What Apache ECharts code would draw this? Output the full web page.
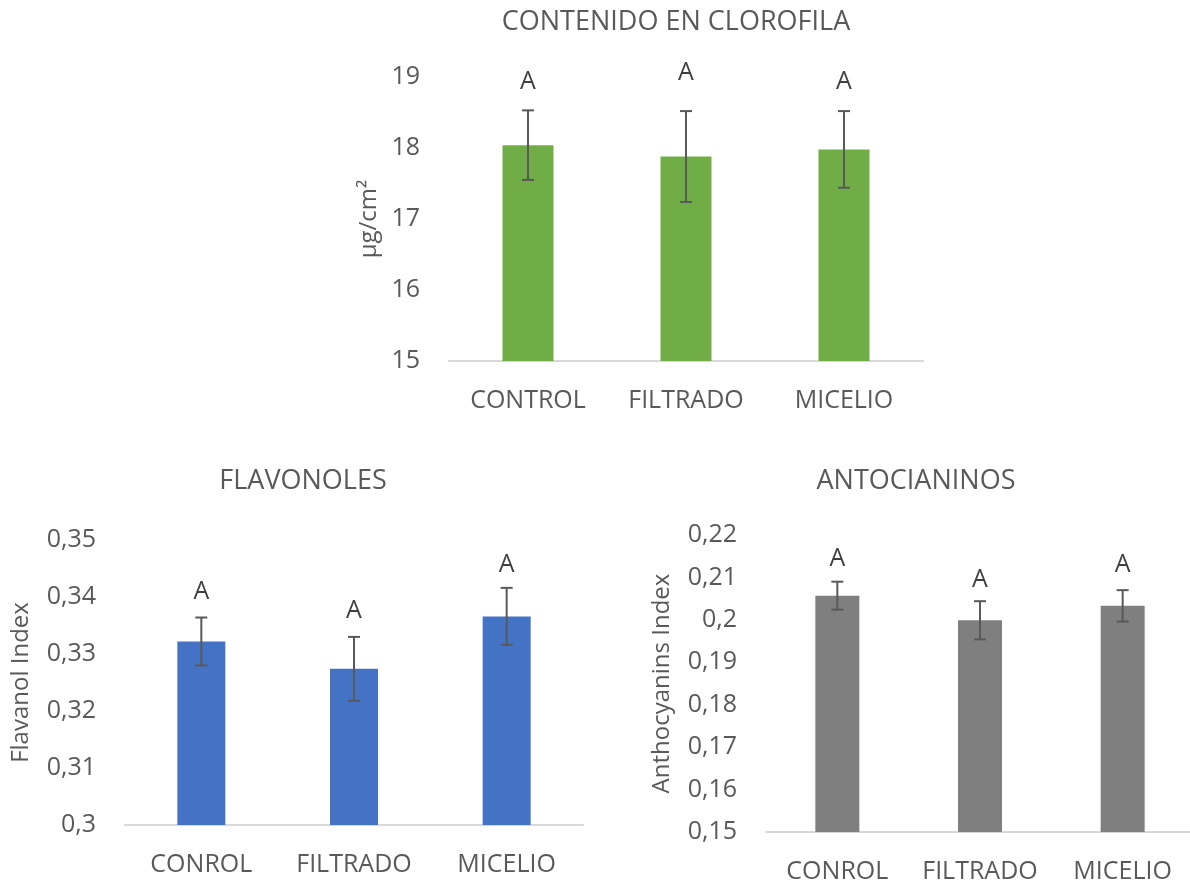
<!DOCTYPE html>
<html lang="es">
<head>
	<meta charset="UTF-8">
	<title>Clorofila, flavonoles y antocianinos</title>
	<style>
		html, body { margin: 0; padding: 0; background: #fff; }
		#main { width: 1190px; height: 882px; }
	</style>
</head>
<body>
	<div id="main"></div>
	<script src="https://cdn.jsdelivr.net/npm/echarts@6/dist/echarts.min.js"></script>
	<script>
		// categorías (el gráfico de abajo dice "CONROL" tal cual)
		var catClorofila = ['CONTROL', 'FILTRADO', 'MICELIO'];
		var catBottom = ['CONROL', 'FILTRADO', 'MICELIO'];

		// contenido en clorofila (µg/cm²)
		var clorofila = [18.04, 17.88, 17.98];
		var clorofilaErr = [0.49, 0.64, 0.54];
		var clorofilaLetras = ['A', 'A', 'A'];
		var clorofilaLetraPos = [18.93, 19.06, 18.93];

		// flavonoles
		var flavonoles = [0.3322, 0.3274, 0.3366];
		var flavonolesErr = [0.0042, 0.0056, 0.0050];
		var flavonolesLetras = ['A', 'A', 'A'];
		var flavonolesLetraPos = [0.3409, 0.3376, 0.3456];

		// antocianinos
		var antocianinos = [0.2057, 0.1999, 0.2033];
		var antocianinosErr = [0.0033, 0.0045, 0.0037];
		var antocianinosLetras = ['A', 'A', 'A'];
		var antocianinosLetraPos = [0.2143, 0.2094, 0.2129];

		var FONT = '"Open Sans", "Noto Sans", sans-serif';
		var GRIS = '#595959';

		function coma(v) {
			return String(Math.round(v * 1000) / 1000).replace('.', ',');
		}

		function errData(vals, errs) {
			return vals.map(function (v, i) { return [i, v - errs[i], v + errs[i]]; });
		}

		function letraData(pos, letras) {
			return pos.map(function (p, i) { return [i, p, letras[i]]; });
		}

		function renderErr(params, api) {
			var lo = api.coord([api.value(0), api.value(1)]);
			var hi = api.coord([api.value(0), api.value(2)]);
			var w = 6;
			var st = { stroke: GRIS, lineWidth: 2 };
			return {
				type: 'group',
				children: [
					{ type: 'line', shape: { x1: lo[0], y1: lo[1], x2: hi[0], y2: hi[1] }, style: st },
					{ type: 'line', shape: { x1: hi[0] - w, y1: hi[1], x2: hi[0] + w, y2: hi[1] }, style: st },
					{ type: 'line', shape: { x1: lo[0] - w, y1: lo[1], x2: lo[0] + w, y2: lo[1] }, style: st }
				]
			};
		}

		function renderLetra(params, api) {
			var p = api.coord([api.value(0), api.value(1)]);
			return {
				type: 'text',
				x: p[0],
				y: p[1],
				style: {
					text: api.value(2),
					textAlign: 'center',
					textVerticalAlign: 'middle',
					font: '25px ' + FONT,
					fill: '#404040'
				}
			};
		}

		function xAxisDe(grid, cats) {
			return {
				type: 'category',
				gridIndex: grid,
				data: cats,
				axisLine: { lineStyle: { color: '#D9D9D9', width: 2 } },
				axisTick: { show: false },
				axisLabel: { color: GRIS, fontSize: 25, fontFamily: FONT, margin: 27, interval: 0 }
			};
		}

		function yAxisDe(grid, min, max, step, name, gap, fmt) {
			return {
				type: 'value',
				gridIndex: grid,
				min: min,
				max: max,
				interval: step,
				name: name,
				nameLocation: 'middle',
				nameGap: gap,
				nameTextStyle: { color: GRIS, fontSize: 24, fontFamily: FONT },
				axisLine: { show: false },
				axisTick: { show: false },
				splitLine: { show: false },
				axisLabel: { color: GRIS, fontSize: 25, fontFamily: FONT, margin: 29, formatter: fmt }
			};
		}

		function seriesDe(idx, vals, errs, letras, pos, color, ancho) {
			return [
				{
					type: 'bar',
					xAxisIndex: idx,
					yAxisIndex: idx,
					data: vals,
					barWidth: ancho,
					itemStyle: { color: color },
					silent: true
				},
				{
					type: 'custom',
					xAxisIndex: idx,
					yAxisIndex: idx,
					data: errData(vals, errs),
					encode: { x: 0, y: [1, 2] },
					renderItem: renderErr,
					z: 5,
					silent: true
				},
				{
					type: 'custom',
					xAxisIndex: idx,
					yAxisIndex: idx,
					data: letraData(pos, letras),
					encode: { x: 0, y: 1 },
					renderItem: renderLetra,
					z: 6,
					silent: true
				}
			];
		}

		var myChart = echarts.init(document.getElementById('main'));
		var option = {
			animation: false,
			graphic: [
				{ type: 'text', x: 676, y: 22, style: { text: 'CONTENIDO EN CLOROFILA', textAlign: 'center', textVerticalAlign: 'middle', font: '27px ' + FONT, fill: GRIS } },
				{ type: 'text', x: 303, y: 481, style: { text: 'FLAVONOLES', textAlign: 'center', textVerticalAlign: 'middle', font: '27px ' + FONT, fill: GRIS } },
				{ type: 'text', x: 916, y: 481, style: { text: 'ANTOCIANINOS', textAlign: 'center', textVerticalAlign: 'middle', font: '27px ' + FONT, fill: GRIS } }
			],
			grid: [
				{ left: 449, top: 77, width: 474, height: 284, containLabel: false, outerBoundsMode: 'none' },
				{ left: 125, top: 540, width: 458, height: 285, containLabel: false, outerBoundsMode: 'none' },
				{ left: 766, top: 535, width: 428, height: 297, containLabel: false, outerBoundsMode: 'none' }
			],
			xAxis: [
				xAxisDe(0, catClorofila),
				xAxisDe(1, catBottom),
				xAxisDe(2, catBottom)
			],
			yAxis: [
				yAxisDe(0, 15, 19, 1, 'µg/cm²', 68, null),
				yAxisDe(1, 0.3, 0.35, 0.01, 'Flavanol Index', 92, coma),
				yAxisDe(2, 0.15, 0.22, 0.01, 'Anthocyanins Index', 92, coma)
			],
			series: [].concat(
				seriesDe(0, clorofila, clorofilaErr, clorofilaLetras, clorofilaLetraPos, '#70AD47', 51),
				seriesDe(1, flavonoles, flavonolesErr, flavonolesLetras, flavonolesLetraPos, '#4472C4', 48),
				seriesDe(2, antocianinos, antocianinosErr, antocianinosLetras, antocianinosLetraPos, '#7F7F7F', 44)
			)
		};

		myChart.setOption(option);
	</script>
</body>
</html>
